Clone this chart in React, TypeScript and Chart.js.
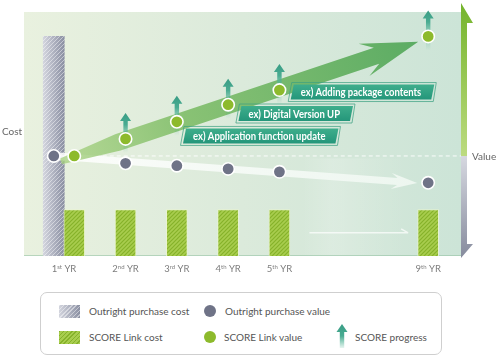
import React, { useEffect, useRef } from 'react';
import { Chart, registerables } from 'chart.js';

Chart.register(...registerables);

// ---- data ----
const yearNums = ['1', '2', '3', '4', '5', '9'];
const yearSups = ['st', 'nd', 'rd', 'th', 'th', 'th'];
const yearSlots = [1, 2, 3, 4, 5, 7.9];
const tickSlots = [0.8, 2, 3, 4, 5, 7.9];
const outrightSlots = [0.6, 2, 3, 4, 5, 7.9];
const outrightCost = [90];
const scoreCost = [19, 19, 19, 19, 19, 19];
const scoreValue = [41, 48, 55, 62, 68, 90];
const outrightValue = [41, 38, 37, 35.7, 34.5, 30];
const progressIdx = [1, 2, 3, 4, 5];
const annTexts = ['ex) Application function update', 'ex) Digital Version UP', 'ex) Adding package contents'];
const annSlots = [3.12, 4.2, 5.22];
const annValues = [49.2, 58.4, 67.2];
const xMin = 0.02;
const xMax = 8.54;
const yMax = 100;

const FONT = 'Lato, "Open Sans", sans-serif';

function bandArrow(ctx: CanvasRenderingContext2D, x0: number, y0: number, x1: number, y1: number,
  w0: number, w1: number, ramp: number, headLen: number, headHalf: number, fill: any) {
  const dx = x1 - x0, dy = y1 - y0, L = Math.hypot(dx, dy);
  const ux = dx / L, uy = dy / L, nx = -uy, ny = ux;
  const bx = x1 - ux * headLen, by = y1 - uy * headLen;
  const r = Math.min(ramp, L - headLen);
  const rx = x0 + ux * r, ry = y0 + uy * r;
  const sx = bx - ux * headLen * 0.3, sy = by - uy * headLen * 0.3;
  ctx.beginPath();
  ctx.moveTo(x0 + nx * w0, y0 + ny * w0);
  ctx.lineTo(rx + nx * w1, ry + ny * w1);
  ctx.lineTo(bx + nx * w1, by + ny * w1);
  ctx.lineTo(sx + nx * headHalf, sy + ny * headHalf);
  ctx.lineTo(x1, y1);
  ctx.lineTo(sx - nx * headHalf, sy - ny * headHalf);
  ctx.lineTo(bx - nx * w1, by - ny * w1);
  ctx.lineTo(rx - nx * w1, ry - ny * w1);
  ctx.lineTo(x0 - nx * w0, y0 - ny * w0);
  ctx.closePath();
  ctx.fillStyle = fill;
  ctx.fill();
}

const decoPlugin = {
  id: 'deco',
  beforeDraw(chart: any) {
    const { ctx, chartArea: a } = chart;
    ctx.save();
    const g = ctx.createLinearGradient(a.left, 0, a.right, 0);
    g.addColorStop(0, '#e9f1df');
    g.addColorStop(0.5, '#dbeadb');
    g.addColorStop(1, '#cce4d7');
    ctx.fillStyle = g;
    ctx.fillRect(a.left, a.top, a.right - a.left, a.bottom - a.top);
    const xs = chart.scales.x;
    const l = xs.getPixelForValue(yearSlots[4]) + 22, r = xs.getPixelForValue(yearSlots[5]) - 22;
    const fg = ctx.createLinearGradient(l, 0, r, 0);
    fg.addColorStop(0, 'rgba(255,255,255,0)');
    fg.addColorStop(0.3, 'rgba(255,255,255,0.18)');
    fg.addColorStop(1, 'rgba(255,255,255,0)');
    ctx.fillStyle = fg;
    ctx.fillRect(l, a.top + (a.bottom - a.top) * 0.6, r - l, (a.bottom - a.top) * 0.4);
    ctx.strokeStyle = 'rgba(150,195,165,0.6)';
    ctx.lineWidth = 1;
    ctx.beginPath();
    ctx.moveTo(a.left, a.bottom - 0.5);
    ctx.lineTo(a.right, a.bottom - 0.5);
    ctx.stroke();
    ctx.restore();
  },
  beforeDatasetDraw(chart: any, args: any) {
    if (args.index !== 1) return;
    const { ctx } = chart;
    const xs = chart.scales.x, ys = chart.scales.y;
    const green = chart.getDatasetMeta(0).data;
    const gray = chart.getDatasetMeta(1).data;
    ctx.save();
    const fy = ys.getPixelForValue(scoreCost[4] * 0.5);
    const fx0 = xs.getPixelForValue(yearSlots[4]) + 30, fx1 = xs.getPixelForValue(yearSlots[5]) - 20;
    ctx.strokeStyle = 'rgba(255,255,255,0.7)';
    ctx.lineWidth = 1.5;
    ctx.beginPath();
    ctx.moveTo(fx0, fy); ctx.lineTo(fx1, fy);
    ctx.moveTo(fx1 - 7, fy - 4); ctx.lineTo(fx1, fy);
    ctx.stroke();
    {
      const p0 = gray[0], p1 = gray[gray.length - 1];
      const dx = p1.x - p0.x, dy = p1.y - p0.y, L = Math.hypot(dx, dy);
      const tx = p1.x - (dx / L) * 11, ty = p1.y - (dy / L) * 11 + 1;
      const wg = ctx.createLinearGradient(p0.x, 0, tx, 0);
      wg.addColorStop(0, 'rgba(255,255,255,0.85)');
      wg.addColorStop(1, 'rgba(240,248,242,0.9)');
      bandArrow(ctx, p0.x, p0.y, tx, ty, 4, 3.5, 30, 20, 8, wg);
    }
    {
      const p0 = green[0], p1 = green[green.length - 1];
      const dx = p1.x - p0.x, dy = p1.y - p0.y, L = Math.hypot(dx, dy);
      const ux = dx / L, uy = dy / L;
      const sx = p0.x - ux * 14, sy = p0.y - uy * 14 + 1;
      const tx = p1.x - ux * 10.5, ty = p1.y - uy * 10.5 + 2;
      const gg = ctx.createLinearGradient(sx, sy, tx, ty);
      gg.addColorStop(0, 'rgba(165,208,125,0.75)');
      gg.addColorStop(0.35, 'rgba(125,188,102,0.88)');
      gg.addColorStop(1, 'rgba(88,170,96,0.97)');
      bandArrow(ctx, sx, sy, tx, ty, 3, 8.5, 60, 44, 17, gg);
    }
    progressIdx.forEach((i) => {
      const p = green[i];
      const tip = p.y - 26, base = p.y - 18;
      const ag = ctx.createLinearGradient(0, tip, 0, p.y);
      ag.addColorStop(0, '#389c84');
      ag.addColorStop(0.45, '#4aac92');
      ag.addColorStop(1, 'rgba(90,185,155,0.25)');
      ctx.fillStyle = ag;
      ctx.beginPath();
      ctx.moveTo(p.x, tip);
      ctx.lineTo(p.x + 5.5, base);
      ctx.lineTo(p.x + 2.2, base);
      ctx.lineTo(p.x + 2.2, p.y - 4);
      ctx.lineTo(p.x - 2.2, p.y - 4);
      ctx.lineTo(p.x - 2.2, base);
      ctx.lineTo(p.x - 5.5, base);
      ctx.closePath();
      ctx.fill();
      const sg = ctx.createLinearGradient(0, p.y, 0, p.y + 14);
      sg.addColorStop(0, 'rgba(70,170,140,0.35)');
      sg.addColorStop(1, 'rgba(70,170,140,0)');
      ctx.fillStyle = sg;
      ctx.fillRect(p.x - 2.2, p.y, 4.4, 14);
    });
    ctx.restore();
  },
  afterDatasetsDraw(chart: any) {
    const { ctx } = chart;
    const xs = chart.scales.x, ys = chart.scales.y;
    ctx.save();
    ctx.font = `bold 11px ${FONT}`;
    annTexts.forEach((t, i) => {
      const left = xs.getPixelForValue(annSlots[i]);
      const cy = ys.getPixelForValue(annValues[i]);
      const tw = ctx.measureText(t).width * 0.86;
      const w = tw + 20, h = 15, sk = 3;
      const top = cy - h / 2, bot = cy + h / 2;
      ctx.strokeStyle = 'rgba(60,160,130,0.9)';
      ctx.lineWidth = 0.8;
      ctx.beginPath();
      ctx.moveTo(left + sk - 2, top - 2);
      ctx.lineTo(left + w + sk + 2, top - 2);
      ctx.lineTo(left + w + 2, bot + 2);
      ctx.lineTo(left - 2.5, bot + 2);
      ctx.closePath();
      ctx.stroke();
      const bg = ctx.createLinearGradient(0, top, 0, bot);
      bg.addColorStop(0, '#3fae8c');
      bg.addColorStop(1, '#24967a');
      ctx.fillStyle = bg;
      ctx.beginPath();
      ctx.moveTo(left + sk, top);
      ctx.lineTo(left + w + sk, top);
      ctx.lineTo(left + w, bot);
      ctx.lineTo(left, bot);
      ctx.closePath();
      ctx.fill();
      ctx.fillStyle = '#ffffff';
      ctx.textBaseline = 'middle';
      ctx.textAlign = 'left';
      ctx.fillText(t, left + 10, cy + 0.5, tw);
    });
    ctx.restore();
  },
  afterDraw(chart: any) {
    const { ctx, chartArea: a } = chart;
    const xs = chart.scales.x, ys = chart.scales.y;
    ctx.save();
    const vy = ys.getPixelForValue(scoreValue[0]);
    const sx0 = a.right, sx1 = a.right + 6;
    const gTop = a.top - 9, gBot = a.bottom + 2;
    const ug = ctx.createLinearGradient(0, gTop, 0, vy);
    ug.addColorStop(0, '#74b42c');
    ug.addColorStop(1, '#bcdb80');
    ctx.fillStyle = ug;
    ctx.beginPath();
    ctx.moveTo(sx0, gTop);
    ctx.lineTo(sx1 + 6, gTop + 20);
    ctx.lineTo(sx1, gTop + 20);
    ctx.lineTo(sx1, vy);
    ctx.lineTo(sx0, vy);
    ctx.closePath();
    ctx.fill();
    const dg = ctx.createLinearGradient(0, vy, 0, gBot);
    dg.addColorStop(0, '#d6d8e0');
    dg.addColorStop(1, '#868b9d');
    ctx.fillStyle = dg;
    ctx.beginPath();
    ctx.moveTo(sx0, vy);
    ctx.lineTo(sx1, vy);
    ctx.lineTo(sx1, gBot - 14);
    ctx.lineTo(sx1 + 6, gBot - 14);
    ctx.lineTo(sx0, gBot);
    ctx.closePath();
    ctx.fill();
    ctx.fillStyle = '#666';
    ctx.font = `10px ${FONT}`;
    ctx.textBaseline = 'middle';
    ctx.textAlign = 'left';
    ctx.fillText('Cost', 2, (a.top + a.bottom) / 2 - 2);
    ctx.fillText('Value', a.right + 11, vy + 1);
    ctx.fillStyle = '#7d7d7d';
    ctx.textBaseline = 'alphabetic';
    tickSlots.forEach((s, i) => {
      const cx = xs.getPixelForValue(s);
      const by = a.bottom + 16;
      ctx.font = `9.5px ${FONT}`;
      const w1 = ctx.measureText(yearNums[i]).width;
      const w3 = ctx.measureText(' YR').width;
      ctx.font = `6px ${FONT}`;
      const w2 = ctx.measureText(yearSups[i]).width;
      let x = cx - (w1 + w2 + w3) / 2;
      ctx.font = `9.5px ${FONT}`;
      ctx.fillText(yearNums[i], x, by);
      x += w1;
      ctx.font = `6px ${FONT}`;
      ctx.fillText(yearSups[i], x, by - 3.5);
      x += w2;
      ctx.font = `9.5px ${FONT}`;
      ctx.fillText(' YR', x, by);
    });
    ctx.restore();
  },
};

let greenPat: any = null;
function greenPattern(chart: any) {
  if (greenPat) return greenPat;
  const cv = document.createElement('canvas');
  cv.width = 4; cv.height = 4;
  const g = cv.getContext('2d')!;
  g.fillStyle = '#a8cd4e';
  g.fillRect(0, 0, 4, 4);
  g.strokeStyle = '#86b22a';
  g.lineWidth = 1.2;
  g.beginPath();
  g.moveTo(0, 4); g.lineTo(4, 0);
  g.moveTo(-1, 1); g.lineTo(1, -1);
  g.moveTo(3, 5); g.lineTo(5, 3);
  g.stroke();
  greenPat = chart.ctx.createPattern(cv, 'repeat');
  return greenPat;
}

function grayFill(c: any) {
  const chart = c.chart;
  const xs = chart.scales && chart.scales.x;
  if (!xs || c.type !== 'data' || !c.raw) return '#a5a9ba';
  const cx = xs.getPixelForValue(c.raw.x);
  if (!isFinite(cx) || !chart.width) return '#a5a9ba';
  const l = cx - 10.5, r = cx + 10.5;
  const cv = document.createElement('canvas');
  cv.width = chart.width; cv.height = 4;
  const g = cv.getContext('2d')!;
  const gr = g.createLinearGradient(l, 0, r, 0);
  gr.addColorStop(0, '#d3d5de');
  gr.addColorStop(1, '#8a8fa2');
  g.fillStyle = gr;
  g.fillRect(0, 0, cv.width, 4);
  g.strokeStyle = 'rgba(255,255,255,0.45)';
  g.lineWidth = 1;
  for (let k = 0; k <= cv.width / 4 + 2; k++) {
    g.beginPath();
    g.moveTo(4 * k, 0);
    g.lineTo(4 * k - 4, 4);
    g.stroke();
  }
  return chart.ctx.createPattern(cv, 'repeat');
}

const legendText: React.CSSProperties = {
  position: 'absolute', font: `10px ${FONT}`, color: '#555', lineHeight: '12px', whiteSpace: 'nowrap',
};

export default function App() {
  const ref = useRef<HTMLCanvasElement>(null);
  useEffect(() => {
    if (!ref.current) return;
    let chart: any = null;
    try {
      chart = new Chart(ref.current, {
        type: 'bar',
        data: {
          datasets: [
            {
              type: 'scatter', label: 'SCORE Link value',
              data: yearSlots.map((x, i) => ({ x, y: scoreValue[i] })),
              pointRadius: 6.2, pointBackgroundColor: '#8dba2c', pointBorderColor: '#ffffff', pointBorderWidth: 1.6,
              showLine: false,
            } as any,
            {
              type: 'scatter', label: 'Outright purchase value',
              data: outrightSlots.map((x, i) => ({ x, y: outrightValue[i] })),
              pointRadius: 6.2, pointBackgroundColor: '#6f7387', pointBorderColor: '#ffffff', pointBorderWidth: 1.6,
              showLine: false,
            } as any,
            {
              type: 'line', label: 'Value baseline',
              data: [{ x: outrightSlots[0], y: scoreValue[0] }, { x: xMax, y: scoreValue[0] }],
              borderColor: 'rgba(255,255,255,0.9)', borderDash: [4, 3], borderWidth: 1, pointRadius: 0,
            } as any,
            {
              type: 'bar', label: 'SCORE Link cost',
              data: yearSlots.map((x, i) => ({ x, y: scoreCost[i] })),
              barThickness: 21, grouped: false,
              backgroundColor: (c: any) => greenPattern(c.chart),
              borderColor: 'rgba(235,245,205,0.8)', borderWidth: 1,
            } as any,
            {
              type: 'bar', label: 'Outright purchase cost',
              data: [{ x: outrightSlots[0], y: outrightCost[0] }],
              barThickness: 21, grouped: false,
              backgroundColor: grayFill,
              borderWidth: 0,
            } as any,
          ],
        },
        options: {
          responsive: false,
          animation: false,
          events: [],
          layout: { padding: { left: 24, top: 12, right: 37, bottom: 104 } },
          scales: {
            x: { type: 'linear', min: xMin, max: xMax, offset: false, display: false },
            y: { type: 'linear', min: 0, max: yMax, display: false },
          },
          plugins: { legend: { display: false }, tooltip: { enabled: false } },
        },
        plugins: [decoPlugin],
      } as any);
    } catch (e) {
      console.error(e);
    }
    return () => { if (chart) chart.destroy(); };
  }, []);

  const swatchGray: React.CSSProperties = {
    position: 'absolute', left: 59, top: 305, width: 21, height: 13,
    background: 'repeating-linear-gradient(135deg, rgba(255,255,255,0.45) 0 1px, rgba(255,255,255,0) 1px 3px), linear-gradient(90deg, #d3d5de, #8a8fa2)',
  };
  const swatchGreen: React.CSSProperties = {
    position: 'absolute', left: 59, top: 331, width: 21, height: 13,
    background: 'repeating-linear-gradient(135deg, #86b22a 0 1px, #a8cd4e 1px 3px)',
  };
  const dot = (top: number, color: string): React.CSSProperties => ({
    position: 'absolute', left: 204, top, width: 12, height: 12, borderRadius: '50%', background: color,
  });

  return (
    <div style={{ position: 'absolute', left: 0, top: 0, width: 498, height: 360, background: '#fff', overflow: 'hidden' }}>
      <canvas ref={ref} width={498} height={360} style={{ position: 'absolute', left: 0, top: 0 }} />
      <div style={{ position: 'absolute', left: 40, top: 292, width: 402, height: 63, boxSizing: 'border-box', border: '1px solid #cfcfcf', borderRadius: 7, background: '#fff' }} />
      <div style={swatchGray} />
      <div style={{ ...legendText, left: 89, top: 305 }}>Outright purchase cost</div>
      <div style={dot(305, '#6f7387')} />
      <div style={{ ...legendText, left: 225, top: 305 }}>Outright purchase value</div>
      <div style={swatchGreen} />
      <div style={{ ...legendText, left: 89, top: 331 }}>SCORE Link cost</div>
      <div style={dot(331, '#8dba2c')} />
      <div style={{ ...legendText, left: 224, top: 331 }}>SCORE Link value</div>
      <svg width={12} height={24} style={{ position: 'absolute', left: 336, top: 324 }}>
        <defs>
          <linearGradient id="lgArrow" x1="0" y1="0" x2="0" y2="1">
            <stop offset="0" stopColor="#389c84" />
            <stop offset="0.5" stopColor="#4aac92" />
            <stop offset="1" stopColor="#5ab99b" stopOpacity="0.15" />
          </linearGradient>
        </defs>
        <path d="M6 0 L11.5 8 L8.2 8 L8.2 24 L3.8 24 L3.8 8 L0.5 8 Z" fill="url(#lgArrow)" />
      </svg>
      <div style={{ ...legendText, left: 355, top: 331 }}>SCORE progress</div>
    </div>
  );
}
